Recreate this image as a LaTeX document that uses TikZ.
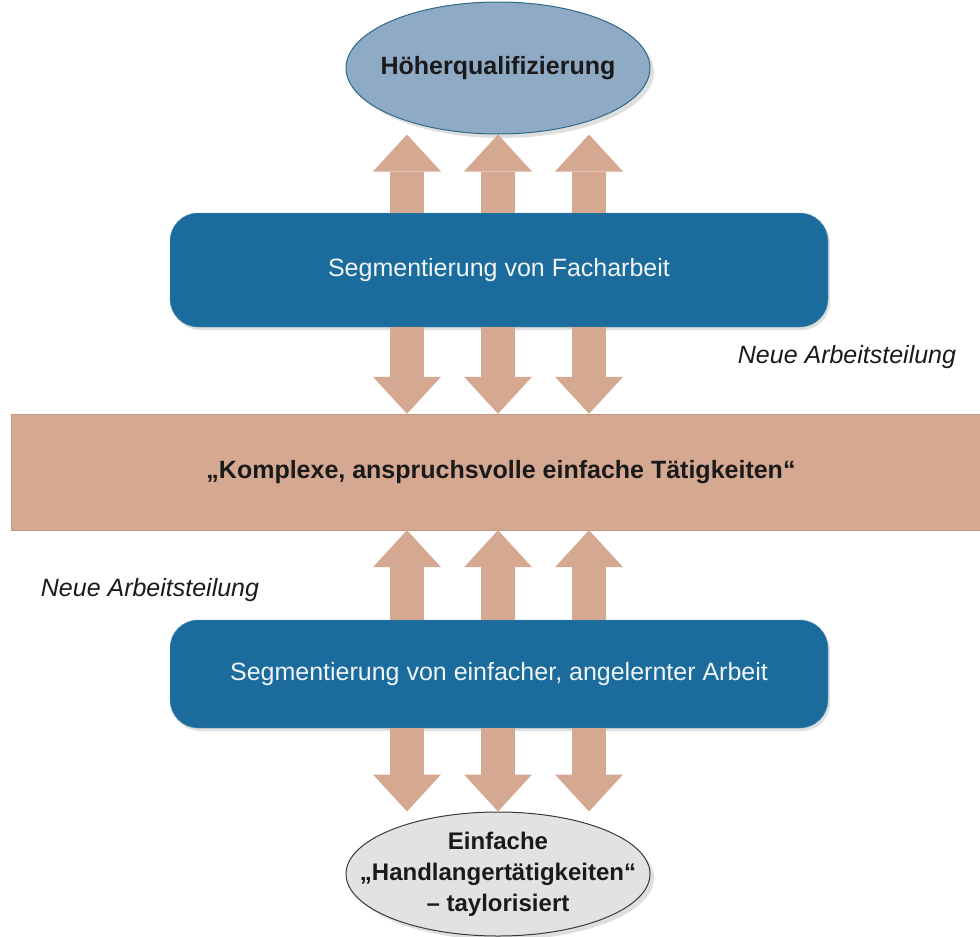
\documentclass[tikz,border=0pt]{standalone}
\usepackage{fontspec}
\setmainfont{Liberation Sans}
\usetikzlibrary{arrows.meta,shapes.geometric,shadows}
\definecolor{ink}{HTML}{1A1A1A}
\definecolor{segblue}{HTML}{1B6C9C}
\definecolor{salmon}{HTML}{D5A891}
\definecolor{skyfill}{HTML}{8FAAC4}
\definecolor{skyline}{HTML}{2E6A88}
\definecolor{greyfill}{HTML}{E2E2E4}
\definecolor{greyline}{HTML}{3A3A3A}

\tikzset{
  segbox/.style={draw=segblue!70!white,fill=segblue,rounded corners=28pt,
    minimum width=658pt,text=white!93!segblue,font=\fontsize{25}{30}\selectfont,
    drop shadow={opacity=.25,shadow xshift=2pt,shadow yshift=-3pt}},
  goal/.style={ellipse,line width=1pt,minimum width=304pt,align=center,inner sep=-45pt,
    text=ink,font=\bfseries\fontsize{25}{31}\selectfont,
    drop shadow={opacity=.25,shadow xshift=4pt,shadow yshift=-4pt}},
  blockarr/.style={draw=salmon,line width=34pt,-{Triangle[width=68pt,length=37pt,line width=0pt]}},
  note/.style={font=\itshape\fontsize{25}{30}\selectfont,text=ink}
}

\begin{document}
\begin{tikzpicture}[x=1pt,y=-1pt]
  \useasboundingbox (0,0) rectangle (980,937);
  % goals
  \node[goal,fill=skyfill,draw=skyline,minimum height=132pt] (hoeher) at (498,68) {Höherqualifizierung};
  \node[goal,fill=greyfill,draw=greyline,minimum height=124pt,font=\bfseries\fontsize{24}{31}\selectfont]
    (hand) at (498,874) {Einfache\\„Handlangertätigkeiten“\\– taylorisiert};
  % segments
  \node[segbox,minimum height=114pt] (fach) at (499,270) {Segmentierung von Facharbeit};
  \node[segbox,minimum height=108pt] (einfach) at (499,674) {Segmentierung von einfacher, angelernter Arbeit};
  % middle band
  \node[fill=salmon,draw=salmon!90!black,minimum width=980pt,minimum height=116pt,
    text=ink,font=\bfseries\fontsize{25}{30}\selectfont] (band) at (501,472)
    {„Komplexe, anspruchsvolle einfache Tätigkeiten“};
  % arrows
  \foreach \dx in {-91,0,91}{
    \draw[blockarr] ([xshift=\dx pt]hoeher.south |- fach.north) -- ([xshift=\dx pt]hoeher.south);
    \draw[blockarr] ([xshift=\dx pt]hoeher.south |- fach.south) -- ([xshift=\dx pt]hoeher.south |- band.north);
    \draw[blockarr] ([xshift=\dx pt]hoeher.south |- einfach.north) -- ([xshift=\dx pt]hoeher.south |- band.south);
    \draw[blockarr] ([xshift=\dx pt]hoeher.south |- einfach.south) -- ([xshift=\dx pt]hoeher.south |- hand.north);
  }
  \node[note] (neuR) at (847,357) {Neue Arbeitsteilung};
  \node[note] (neuL) at (150,590) {Neue Arbeitsteilung};
\end{tikzpicture}
\end{document}
